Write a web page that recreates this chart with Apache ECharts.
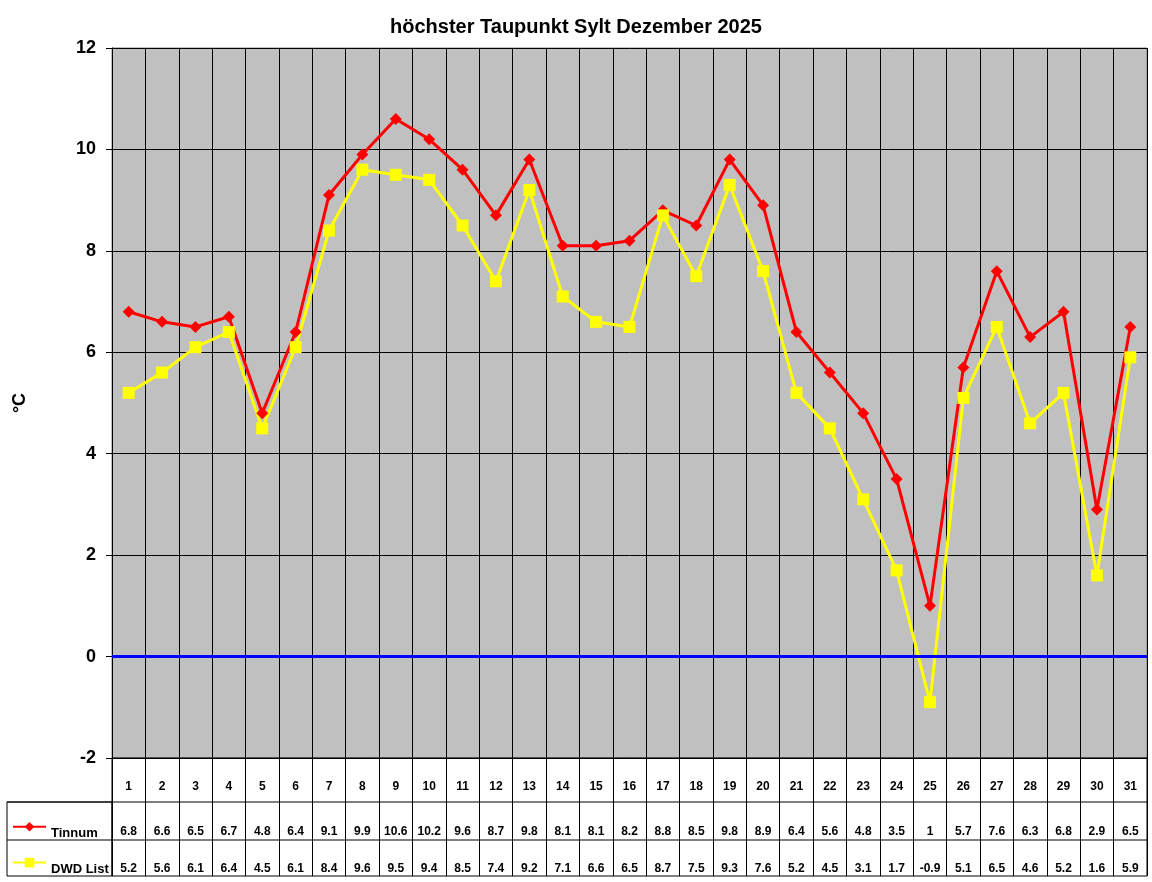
<!DOCTYPE html>
<html>
<head>
<meta charset="utf-8">
<script src="https://cdn.jsdelivr.net/npm/echarts@6/dist/echarts.min.js"></script>
<style>
html,body{margin:0;padding:0;background:#fff;}
#chart{width:1152px;height:882px;}
</style>
</head>
<body>
<div id="chart"></div>
<script>
const days = ['1','2','3','4','5','6','7','8','9','10','11','12','13','14','15','16','17','18','19','20','21','22','23','24','25','26','27','28','29','30','31'];
const tinnum = [6.8,6.6,6.5,6.7,4.8,6.4,9.1,9.9,10.6,10.2,9.6,8.7,9.8,8.1,8.1,8.2,8.8,8.5,9.8,8.9,6.4,5.6,4.8,3.5,1,5.7,7.6,6.3,6.8,2.9,6.5];
const dwd = [5.2,5.6,6.1,6.4,4.5,6.1,8.4,9.6,9.5,9.4,8.5,7.4,9.2,7.1,6.6,6.5,8.7,7.5,9.3,7.6,5.2,4.5,3.1,1.7,-0.9,5.1,6.5,4.6,5.2,1.6,5.9];
const seriesNames = ['Tinnum', 'DWD List'];
const titleText = 'höchster Taupunkt Sylt Dezember 2025';
const yUnit = '°C';

const FONT = 'Arial, "Liberation Sans", sans-serif';
const chart = echarts.init(document.getElementById('chart'), null, {renderer: 'canvas'});

function tableAxis(values, margin) {
  return {
    type: 'category', gridIndex: 0, position: 'bottom', data: days, boundaryGap: true,
    axisLine: {show: false}, axisTick: {show: false}, splitLine: {show: false},
    axisLabel: {show: true, interval: 0, margin: margin, color: '#000', fontFamily: FONT, fontWeight: 'bold', fontSize: 12,
      formatter: function (v, i) { return String(values[i]); }}
  };
}

chart.setOption({
  animation: false,
  backgroundColor: '#fff',
  title: {text: titleText, left: 'center', top: 12,
    textStyle: {fontFamily: FONT, fontWeight: 'bold', fontSize: 20, color: '#000'}},
  legend: {
    orient: 'vertical', left: 12, top: 822, padding: 0, itemWidth: 33, itemHeight: 12, itemGap: 18,
    data: seriesNames,
    formatter: '{t|{name}}',
    textStyle: {fontFamily: FONT, fontWeight: 'bold', fontSize: 13, color: '#000',
      rich: {t: {fontFamily: FONT, fontWeight: 'bold', fontSize: 13, color: '#000', padding: [13, 0, 0, 0]}}},
    selectedMode: false
  },
  grid: [
    {left: 112, top: 48, width: 1035, height: 710, show: true, backgroundColor: '#C0C0C0', borderColor: '#808080', borderWidth: 1},
    {left: 112, top: 758, width: 1035, height: 118, show: true, backgroundColor: '#fff', borderColor: '#000', borderWidth: 1}
  ],
  xAxis: [
    {type: 'category', gridIndex: 0, position: 'bottom', data: days, boundaryGap: true,
      axisLine: {show: true, onZero: false, lineStyle: {color: '#000', width: 1}},
      axisTick: {show: false},
      splitLine: {show: true, lineStyle: {color: '#000', width: 1}},
      axisLabel: {show: true, interval: 0, margin: 23, color: '#000', fontFamily: FONT, fontWeight: 'bold', fontSize: 12}},
    tableAxis(tinnum, 68),
    tableAxis(dwd, 105),
    {type: 'category', gridIndex: 1, position: 'bottom', data: days, boundaryGap: true,
      axisLine: {show: false}, axisTick: {show: false}, axisLabel: {show: false},
      splitLine: {show: true, lineStyle: {color: '#000', width: 1}}}
  ],
  yAxis: [
    {type: 'value', gridIndex: 0, min: -2, max: 12, interval: 2,
      name: yUnit, nameLocation: 'middle', nameRotate: 90, nameGap: 83,
      nameTextStyle: {fontFamily: FONT, fontWeight: 'bold', fontSize: 18, color: '#000'},
      axisLine: {show: true, lineStyle: {color: '#000', width: 1}},
      axisTick: {show: true, length: 6, lineStyle: {color: '#000'}},
      splitLine: {show: true, lineStyle: {color: '#000', width: 1}},
      axisLabel: {margin: 16, color: '#000', fontFamily: FONT, fontWeight: 'bold', fontSize: 18}},
    {type: 'value', gridIndex: 1, show: false, min: 0, max: 1}
  ],
  graphic: [
    {type: 'line', shape: {x1: 7, y1: 802, x2: 1147, y2: 802}, style: {stroke: '#000', lineWidth: 1}, silent: true},
    {type: 'line', shape: {x1: 7, y1: 840, x2: 1147, y2: 840}, style: {stroke: '#000', lineWidth: 1}, silent: true},
    {type: 'rect', shape: {x: 7, y: 802, width: 105, height: 74}, style: {fill: null, stroke: '#000', lineWidth: 1}, silent: true}
  ],
  series: [
    {name: seriesNames[0], type: 'line', xAxisIndex: 0, yAxisIndex: 0, data: tinnum,
      symbol: 'diamond', symbolSize: 12, showAllSymbol: true,
      lineStyle: {color: '#FF0000', width: 3}, itemStyle: {color: '#FF0000'},
      markLine: {silent: true, symbol: 'none', label: {show: false},
        lineStyle: {color: '#0000FF', width: 3, type: 'solid'}, data: [{yAxis: 0}]}},
    {name: seriesNames[1], type: 'line', xAxisIndex: 0, yAxisIndex: 0, data: dwd,
      symbol: 'rect', symbolSize: 12, showAllSymbol: true,
      lineStyle: {color: '#FFFF00', width: 3}, itemStyle: {color: '#FFFF00'}}
  ]
});
</script>
</body>
</html>
